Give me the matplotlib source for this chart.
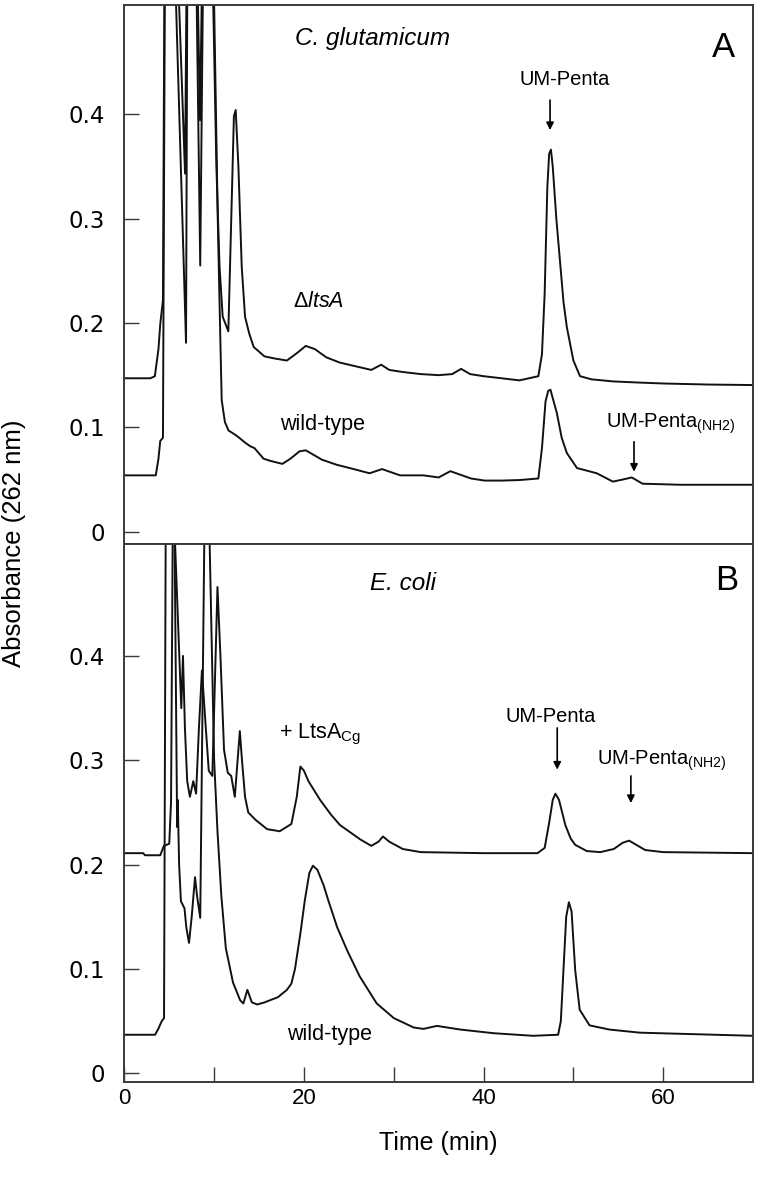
import matplotlib
matplotlib.use("Agg")
import matplotlib.pyplot as plt
from matplotlib.ticker import FixedLocator

# ---------------- data ----------------
# Panel A: C. glutamicum, delta ltsA (upper trace)
cg_mut_t = [0, 2.9, 3.4, 3.8, 4.0, 4.3, 4.45, 5.0, 5.76, 6.87, 7.0, 7.4, 8.06, 8.45, 8.73, 9.2,
            9.9, 10.25, 10.6, 10.95, 11.58, 11.96, 12.2, 12.4, 12.7, 13.07, 13.44, 13.9, 14.4, 15.6,
            16.7, 18.1, 19.2, 20.2, 21.2, 22.5, 24, 26, 27.5, 28.6, 29.5, 31, 33, 35, 36.5, 37.5,
            38.5, 40, 42, 44, 46.1, 46.5, 46.8, 47.1, 47.3, 47.5, 47.7, 48.1, 48.5, 48.9, 49.27,
            50.0, 50.74, 52, 54.4, 57, 60, 65, 70]
cg_mut_a = [0.147, 0.147, 0.149, 0.175, 0.199, 0.222, 0.5, 1.0, 0.5045, 0.181, 0.5, 1.0, 0.5045,
            0.255, 0.5, 1.0, 0.5045, 0.35, 0.254, 0.206, 0.192, 0.318, 0.398, 0.404, 0.35, 0.254,
            0.206, 0.19, 0.177, 0.168, 0.166, 0.164, 0.171, 0.178, 0.175, 0.167, 0.162, 0.158,
            0.155, 0.16, 0.155, 0.153, 0.151, 0.15, 0.151, 0.156, 0.151, 0.149, 0.147, 0.145,
            0.149, 0.17, 0.228, 0.33, 0.362, 0.366, 0.35, 0.30, 0.26, 0.22, 0.196, 0.164, 0.149,
            0.146, 0.144, 0.143, 0.142, 0.141, 0.1405]

# Panel A: C. glutamicum, wild-type (lower trace)
cg_wt_t = [0, 3.5, 3.8, 4.0, 4.3, 4.5, 5.3, 6.1, 6.76, 6.9, 7.5, 8.2, 8.43, 8.6, 9.3, 10.0, 10.4,
           10.7, 10.84, 11.2, 11.6, 12.5, 13.5, 14.0, 14.5, 15.5, 16.2, 17.6, 18.5, 19.5, 20.2, 21,
           22, 23.7, 25.1, 27.3, 28.7, 30.7, 33.3, 35.0, 36.3, 38.6, 40.1, 42, 44, 46.1, 46.5, 46.9,
           47.2, 47.45, 47.7, 48.15, 48.7, 49.27, 50.4, 52.6, 54.4, 55.5, 56.5, 57.7, 61.9, 70]
cg_wt_a = [0.054, 0.054, 0.07, 0.087, 0.09, 0.5, 1.0, 0.5045, 0.343, 0.5, 1.0, 0.5045, 0.394, 0.5,
           1.2, 0.5045, 0.3, 0.18, 0.126, 0.105, 0.097, 0.092, 0.085, 0.082, 0.08, 0.07, 0.068,
           0.065, 0.07, 0.077, 0.078, 0.074, 0.069, 0.064, 0.061, 0.056, 0.06, 0.054, 0.054, 0.052,
           0.058, 0.051, 0.049, 0.049, 0.0495, 0.051, 0.08, 0.125, 0.135, 0.136, 0.128, 0.114, 0.09,
           0.0754, 0.061, 0.056, 0.048, 0.05, 0.052, 0.046, 0.045, 0.045]

# Panel B: E. coli + LtsA_Cg (upper trace)
ec_lts_t = [0, 2.1, 2.3, 4.0, 4.4, 5.0, 5.2, 5.38, 5.5, 5.65, 6.34, 6.53, 6.75, 7.0, 7.3, 7.68, 7.99,
            8.3, 8.64, 9.0, 9.4, 9.8, 10.37, 10.7, 11.1, 11.52, 11.9, 12.3, 12.86, 13.1, 13.44,
            13.8, 14.6, 15.9, 17.3, 18.6, 19.2, 19.6, 20.0, 20.5, 21.8, 23, 24, 26.3, 27.5, 28.3,
            28.8, 29.5, 31, 33, 40, 46, 46.8, 47.3, 47.7, 48.0, 48.4, 49.1, 49.7, 50.2, 51.5, 53,
            54.5, 55.5, 56.2, 57, 58, 60, 70]
ec_lts_a = [0.211, 0.211, 0.209, 0.209, 0.218, 0.22, 0.26, 0.5075, 0.9, 0.5075, 0.35, 0.40, 0.33,
            0.28, 0.265, 0.28, 0.268, 0.33, 0.386, 0.34, 0.29, 0.285, 0.466, 0.40, 0.31, 0.288,
            0.285, 0.265, 0.328, 0.30, 0.265, 0.25, 0.243, 0.234, 0.232, 0.239, 0.265, 0.294, 0.29,
            0.28, 0.262, 0.248, 0.238, 0.224, 0.218, 0.222, 0.227, 0.222, 0.215, 0.212, 0.211,
            0.211, 0.216, 0.24, 0.262, 0.268, 0.262, 0.238, 0.225, 0.219, 0.213, 0.212, 0.215,
            0.221, 0.223, 0.219, 0.214, 0.212, 0.211]

# Panel B: E. coli wild-type (lower trace)
ec_wt_t = [0, 3.42, 3.8, 4.16, 4.42, 4.6, 5.0, 5.6, 5.88, 5.95, 6.1, 6.3, 6.53, 6.7, 6.9, 7.2, 7.5,
           7.87, 8.1, 8.45, 8.9, 9.2, 9.5, 10.0, 10.37, 10.8, 11.3, 12.1, 12.9, 13.25, 13.7, 14.2,
           14.8, 15.6, 17.1, 18.1, 18.6, 19.0, 19.6, 20.1, 20.6, 21.0, 21.5, 22.2, 22.7, 23.7,
           24.8, 26.2, 28.1, 30, 32.2, 33.3, 34.8, 37.4, 41.1, 45.5, 48.3, 48.6, 48.9, 49.2, 49.5,
           49.8, 50.2, 50.7, 51.8, 54, 57.4, 70]
ec_wt_a = [0.037, 0.037, 0.043, 0.05, 0.053, 0.5075, 0.9, 0.5075, 0.236, 0.262, 0.2, 0.165, 0.161,
           0.158, 0.14, 0.125, 0.15, 0.188, 0.17, 0.149, 0.5075, 0.8, 0.5075, 0.3, 0.232, 0.17,
           0.12, 0.087, 0.07, 0.067, 0.08, 0.068, 0.066, 0.068, 0.073, 0.08, 0.086, 0.1, 0.134,
           0.166, 0.192, 0.199, 0.195, 0.18, 0.166, 0.14, 0.118, 0.093, 0.067, 0.053, 0.044,
           0.0426, 0.0455, 0.042, 0.0385, 0.036, 0.037, 0.05, 0.1, 0.15, 0.164, 0.155, 0.099,
           0.061, 0.046, 0.042, 0.039, 0.036]

x_ticks_major = [0, 20, 40, 60]
x_ticks_minor = [10, 30, 50]
y_ticks = [0, 0.1, 0.2, 0.3, 0.4]
y_tick_labels = ["0", "0.1", "0.2", "0.3", "0.4"]

# ---------------- styling ----------------
plt.rcParams["mathtext.fontset"] = "custom"
plt.rcParams["mathtext.rm"] = "Liberation Sans"
plt.rcParams["mathtext.it"] = "Liberation Sans:italic"
SANS = ["Liberation Sans", "DejaVu Sans"]
LINE_C = "#111111"
SPINE_C = "#3a3a3a"

fig = plt.figure(figsize=(7.6, 11.81), dpi=100)
axA = fig.add_axes([0.1636, 0.5396, 0.8272, 0.4561])
axB = fig.add_axes([0.1636, 0.0838, 0.8272, 0.4558])

for ax, ylim in ((axA, (-0.0115, 0.5045)), (axB, (-0.0083, 0.5075))):
    ax.set_xlim(0, 70)
    ax.set_ylim(*ylim)
    for s in ax.spines.values():
        s.set_color(SPINE_C)
        s.set_linewidth(1.4)
    ax.yaxis.set_major_locator(FixedLocator(y_ticks))
    ax.set_yticklabels(y_tick_labels, fontfamily="DejaVu Sans", fontsize=16.5)
    ax.tick_params(axis="y", direction="in", length=11, width=1.0, color=SPINE_C, pad=14,
                   right=False)

axA.tick_params(axis="x", which="both", bottom=False, labelbottom=False, top=False)
axB.xaxis.set_major_locator(FixedLocator(x_ticks_major))
axB.xaxis.set_minor_locator(FixedLocator(x_ticks_minor))
axB.set_xticklabels([str(v) for v in x_ticks_major], fontfamily=SANS, fontsize=16)
axB.tick_params(axis="x", which="both", direction="in", length=11, width=1.0, color=SPINE_C,
                pad=4, top=False)

# traces
lw = 1.4
axA.plot(cg_mut_t, cg_mut_a, color=LINE_C, lw=lw)
axA.plot(cg_wt_t, cg_wt_a, color=LINE_C, lw=lw)
axB.plot(ec_lts_t, ec_lts_a, color=LINE_C, lw=lw)
axB.plot(ec_wt_t, ec_wt_a, color=LINE_C, lw=lw)

# labels
fig.text(0.019, 0.54, "Absorbance (262 nm)", rotation=90, va="center", ha="center",
         fontfamily=SANS, fontsize=18.5)
axB.set_xlabel("Time (min)", fontfamily=SANS, fontsize=18, labelpad=16)

# annotations panel A
axA.text(19.0, 0.466, "C. glutamicum", fontfamily=SANS, style="italic", fontsize=17.5,
         ha="left", va="baseline")
axA.text(65.4, 0.4545, "A", fontfamily=SANS, fontsize=25, ha="left", va="baseline")
axA.text(44.05, 0.4278, "UM-Penta", fontfamily=SANS, fontsize=14.5, ha="left", va="baseline")
axA.text(53.64, 0.0992, r"UM-Penta$_{\mathregular{(NH2)}}$", fontfamily=SANS, fontsize=14.5,
         ha="left", va="baseline")
axA.text(18.8, 0.215, r"Δ$\mathit{ltsA}$", fontfamily=SANS, fontsize=15.5, ha="left",
         va="baseline")
axA.text(17.34, 0.0974, "wild-type", fontfamily=SANS, fontsize=15.5, ha="left", va="baseline")

arrow = dict(arrowstyle="-|>", color="black", lw=1.2, mutation_scale=11, shrinkA=0, shrinkB=0)
axA.annotate("", xy=(47.4, 0.3847), xytext=(47.4, 0.4135), arrowprops=arrow)
axA.annotate("", xy=(56.75, 0.0575), xytext=(56.75, 0.0862), arrowprops=arrow)

# annotations panel B
axB.text(27.4, 0.463, "E. coli", fontfamily=SANS, style="italic", fontsize=17.5, ha="left",
         va="baseline")
axB.text(65.8, 0.463, "B", fontfamily=SANS, fontsize=25, ha="left", va="baseline")
axB.text(17.2, 0.321, r"+ LtsA$_{\mathregular{Cg}}$", fontfamily=SANS, fontsize=15.5,
         ha="left", va="baseline")
axB.text(42.4, 0.337, "UM-Penta", fontfamily=SANS, fontsize=14.5, ha="left", va="baseline")
axB.text(52.6, 0.2955, r"UM-Penta$_{\mathregular{(NH2)}}$", fontfamily=SANS, fontsize=14.5,
         ha="left", va="baseline")
axB.text(18.1, 0.032, "wild-type", fontfamily=SANS, fontsize=15.5, ha="left", va="baseline")
axB.annotate("", xy=(48.2, 0.291), xytext=(48.2, 0.331), arrowprops=arrow)
axB.annotate("", xy=(56.4, 0.259), xytext=(56.4, 0.285), arrowprops=arrow)

fig.savefig("out.png", dpi=100, facecolor="white")
